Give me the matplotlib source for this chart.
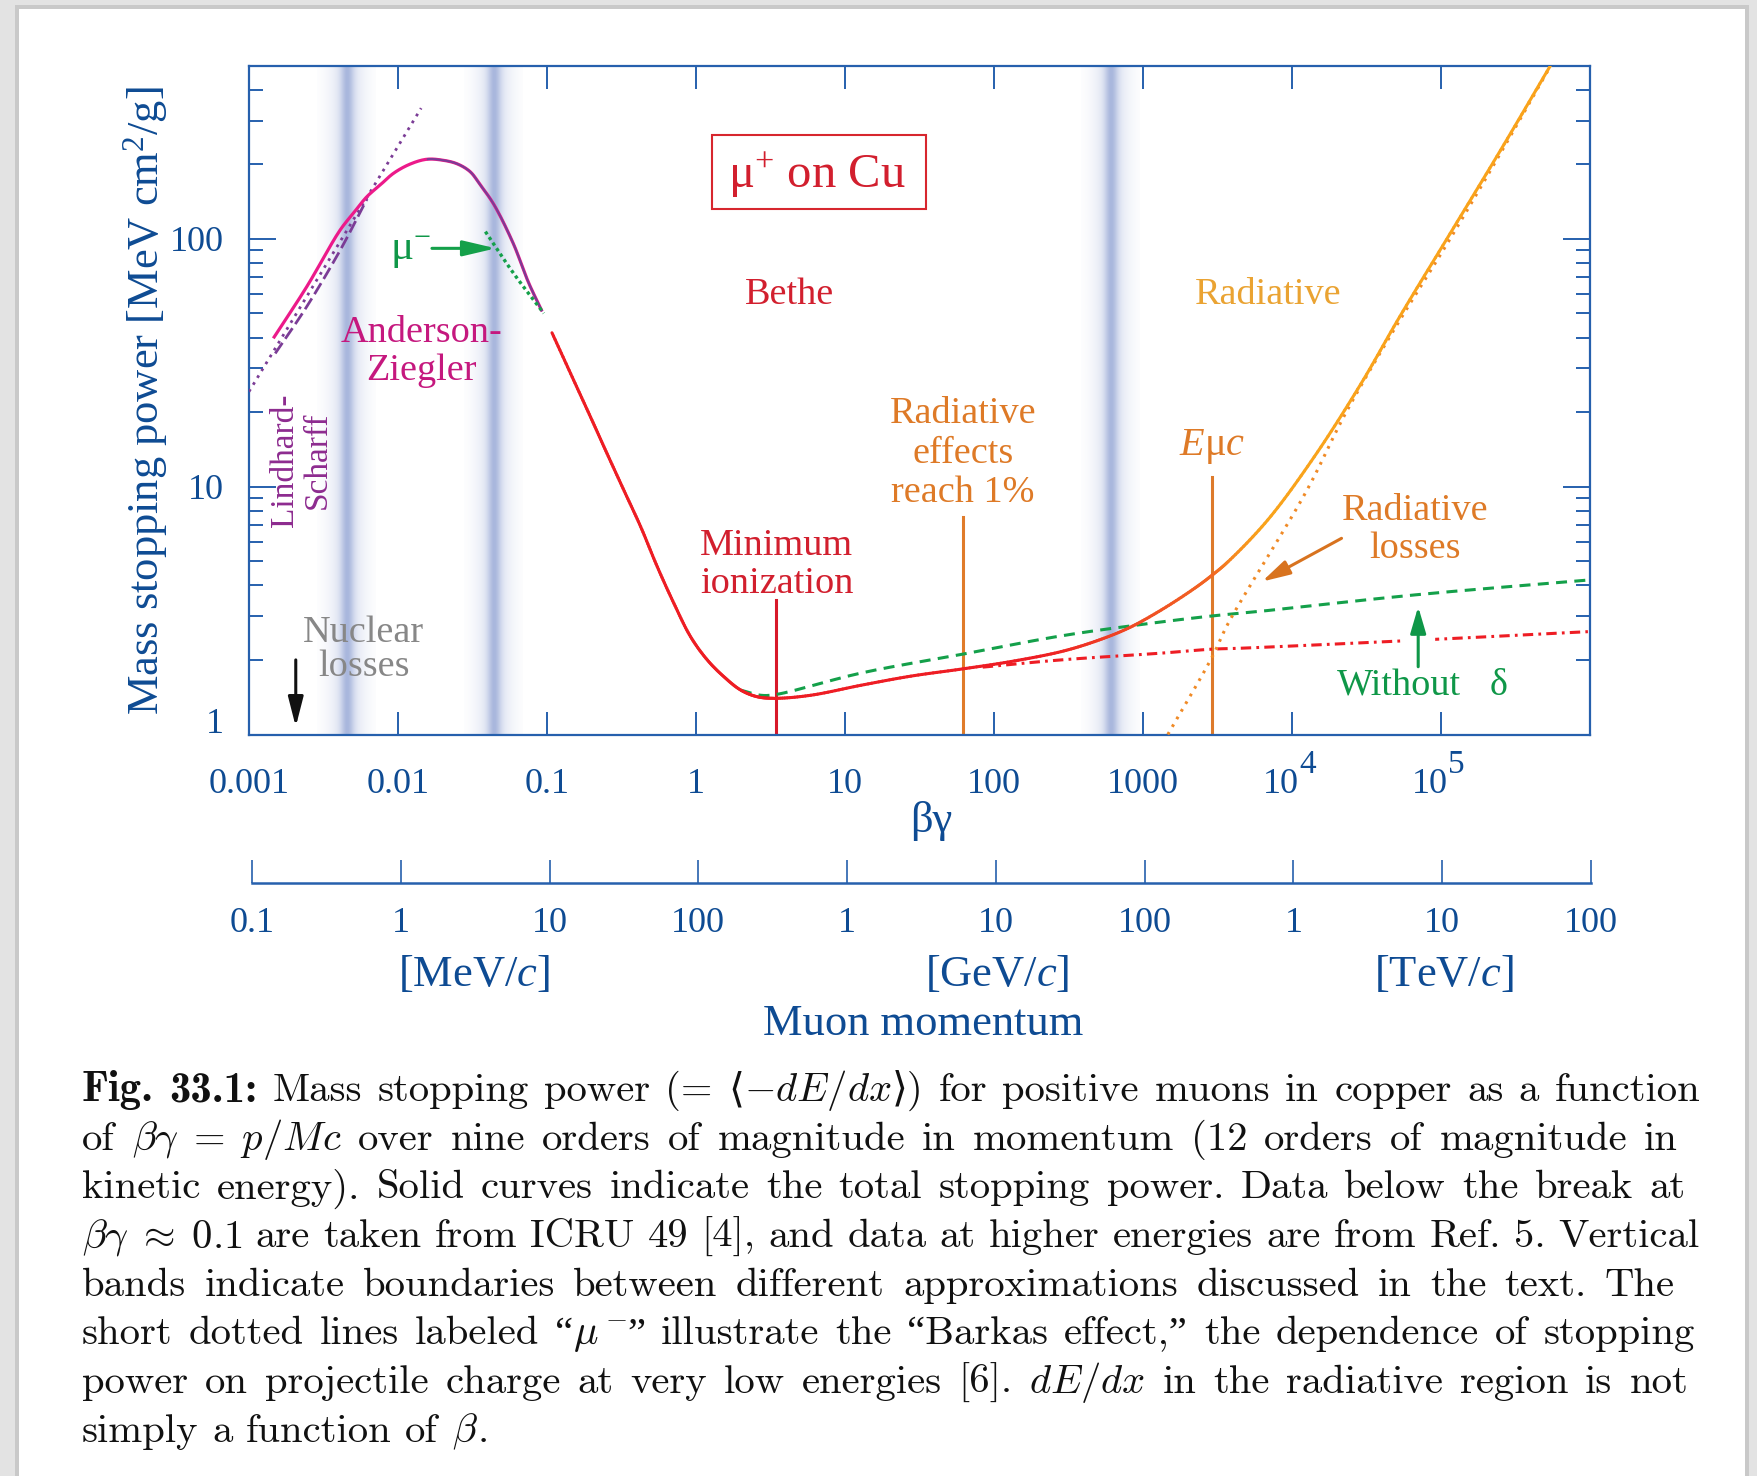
import re
import numpy as np
import matplotlib
matplotlib.use("Agg")
import matplotlib.pyplot as plt
from matplotlib.patches import Rectangle
from matplotlib.collections import LineCollection
from matplotlib.colors import LinearSegmentedColormap, to_rgb
from matplotlib.ticker import FixedLocator, NullLocator, LogLocator
import matplotlib.transforms as mtransforms

plt.rcParams['font.family'] = ['Liberation Serif', 'DejaVu Serif']
plt.rcParams['mathtext.fontset'] = 'custom'
plt.rcParams['mathtext.rm'] = 'Liberation Serif'
plt.rcParams['mathtext.it'] = 'Liberation Serif:italic'
plt.rcParams['mathtext.bf'] = 'Liberation Serif:bold'

# ---------------------------------------------------------------- data
# Anderson-Ziegler / ICRU 49 low-energy curve  (beta*gamma, MeV cm^2/g)
az_bg = [0.001456, 0.00244, 0.00409, 0.00502, 0.00618, 0.00759, 0.00933, 0.01208, 0.0156,
         0.01972, 0.0249, 0.0305, 0.0357, 0.0439, 0.0593, 0.0749, 0.0927]
az_val = [39.7, 64.1, 108.6, 127, 148, 165, 184, 200.5, 209.6,
          208, 201, 186.7, 165, 138, 96, 67, 51]
# Lindhard-Scharff (dashed) and its asymptote (dotted)
ls_bg = [0.0015, 0.00244, 0.00409, 0.0062]
ls_val = [34.5, 53.3, 90, 145]
lsd_bg = [0.001, 0.0143]
lsd_val = [24.2, 337]
# mu- (Barkas effect)
mum_bg = [0.0386, 0.0597, 0.0951]
mum_val = [107, 72.6, 50.1]
# total stopping power (Bethe + radiative)
tot_bg = [0.108, 0.151, 0.2, 0.253, 0.33, 0.425, 0.55, 0.711, 0.92, 1.19, 1.54, 2.0, 2.58, 3.43,
          5.89, 12.8, 27.7, 61.7, 130, 282, 472, 791, 1325, 2218, 2917, 3720, 6870,
          1.41e4, 2.9e4, 5.28e4, 1.15e5, 2.51e5, 5.42e5]
tot_val = [41.8, 26.9, 18.6, 13.6, 9.6, 6.9, 4.75, 3.38, 2.48, 2.0, 1.71, 1.51, 1.42, 1.40,
           1.44, 1.58, 1.72, 1.84, 1.97, 2.16, 2.37, 2.68, 3.18, 3.89, 4.40, 4.98, 7.34,
           13.2, 26.0, 48.5, 105, 228, 500]
# without density effect (dashed green)
nod_bg = [2.0, 2.72, 3.43, 12.8, 61.7, 282, 1023, 2917, 5200, 6.71e4, 9.68e5]
nod_val = [1.51, 1.44, 1.45, 1.77, 2.11, 2.50, 2.79, 3.01, 3.11, 3.66, 4.20]
# ionization only (dash-dot red)
ion_bg = [84, 282, 1325, 2917, 4570, 6.71e4, 9.68e5]
ion_val = [1.87, 2.0, 2.13, 2.21, 2.23, 2.40, 2.60]
# radiative losses (dotted orange)
rad_bg = [1468, 2917, 3720, 1.25e4, 2.28e4, 4.68e4, 1.15e5, 2.51e5, 5.42e5]
rad_val = [1.0, 2.06, 2.8, 9.6, 19.7, 41.6, 100, 222, 497]
# vertical markers: minimum ionization, radiative effects 1%, E_muc
vmark_bg = [3.43, 61.7, 2917]
vmark_top = [3.49, 7.57, 10.97]
# boundaries between approximations (vertical bands)
band_bg = [0.00454, 0.0438, 611]

# axes ticks / labels
bg_ticks = [1e-3, 1e-2, 1e-1, 1, 10, 100, 1000, 1e4, 1e5, 1e6]
bg_ticklabels = ['0.001', '0.01', '0.1', '1', '10', '100', '1000', '10^4', '10^5', '']
y_ticks = [1, 10, 100]
y_ticklabels = ['1', '10', '100']
mom_ticks = [0.1, 1, 10, 100, 1e3, 1e4, 1e5, 1e6, 1e7, 1e8]      # MeV/c
mom_ticklabels = ['0.1', '1', '10', '100', '1', '10', '100', '1', '10', '100']

caption = [
    r"Fig. 33.1: Mass stopping power (= ⟨$-dE/dx$⟩) for positive muons in copper as a function",
    r"of $\beta\gamma\;=\;p/Mc$ over nine orders of magnitude in momentum (12 orders of magnitude in",
    r"kinetic energy). Solid curves indicate the total stopping power. Data below the break at",
    r"$\beta\gamma\;\approx\;0.1$ are taken from ICRU 49 [4], and data at higher energies are from Ref. 5. Vertical",
    r"bands indicate boundaries between different approximations discussed in the text. The",
    r"short dotted lines labeled “$\mu^-$” illustrate the “Barkas effect,” the dependence of stopping",
    r"power on projectile charge at very low energies [6]. $dE/dx$ in the radiative region is not",
    r"simply a function of $\beta$.",
]
caption_right = [1700, 1678, 1686, 1700, 1675, 1695, 1688, None]

# ---------------------------------------------------------------- style
BLUE = '#2660ad'
BLUE_T = '#0e4b93'
RED = '#ee1d24'
RED_T = '#d21f2e'
ORANGE_T = '#de7a27'
YELLOW_T = '#eaa332'
GREEN = '#14a04a'
GREEN_T = '#0f9748'
MAGENTA = '#ec1a8a'
MAGENTA_T = '#c5187e'
PURPLE = '#7b3c96'
PURPLE_T = '#8d2b8f'
GRAY_T = '#878787'

W, H = 1758, 1476
fig = plt.figure(figsize=(W / 100, H / 100), dpi=100)
fig.patch.set_facecolor('#e3e3e3')


def fx(p):
    return p / W


def fy(p):
    return 1 - p / H


def smooth(xs, ys, n=14):
    """Centripetal Catmull-Rom through the points (in log-log display space)."""
    sx, sy = 149.0, 248.0
    P = np.column_stack([np.log10(xs) * sx, np.log10(ys) * sy])
    if len(P) < 3:
        return np.asarray(xs), np.asarray(ys)
    P = np.vstack([2 * P[0] - P[1], P, 2 * P[-1] - P[-2]])
    out = []
    for i in range(1, len(P) - 2):
        p0, p1, p2, p3 = P[i - 1], P[i], P[i + 1], P[i + 2]
        t0 = 0.0
        t1 = t0 + np.linalg.norm(p1 - p0) ** 0.5
        t2 = t1 + np.linalg.norm(p2 - p1) ** 0.5
        t3 = t2 + np.linalg.norm(p3 - p2) ** 0.5
        t = np.linspace(t1, t2, n, endpoint=False)[:, None]
        A1 = (t1 - t) / (t1 - t0) * p0 + (t - t0) / (t1 - t0) * p1
        A2 = (t2 - t) / (t2 - t1) * p1 + (t - t1) / (t2 - t1) * p2
        A3 = (t3 - t) / (t3 - t2) * p2 + (t - t2) / (t3 - t2) * p3
        B1 = (t2 - t) / (t2 - t0) * A1 + (t - t0) / (t2 - t0) * A2
        B2 = (t3 - t) / (t3 - t1) * A2 + (t - t1) / (t3 - t1) * A3
        C = (t2 - t) / (t2 - t1) * B1 + (t - t1) / (t2 - t1) * B2
        out.append(C)
    out.append(P[-2][None, :])
    out = np.vstack(out)
    return 10 ** (out[:, 0] / sx), 10 ** (out[:, 1] / sy)


fig.patches.append(Rectangle((fx(15), 0), fx(1749) - fx(15), fy(5), transform=fig.transFigure,
                             facecolor='#c9c9c9', edgecolor='none', zorder=-20))
fig.patches.append(Rectangle((fx(19), 0), fx(1745) - fx(19), fy(9), transform=fig.transFigure,
                             facecolor='white', edgecolor='none', zorder=-19))

ax = fig.add_axes([fx(249), fy(734.5), (1590 - 249) / W, (734.5 - 65.7) / H])
ax.set_xscale('log')
ax.set_yscale('log')
ax.set_xlim(1e-3, 1e6)
ax.set_ylim(1, 500)
ax.patch.set_alpha(0)

# vertical bands
core = np.array(to_rgb('#a9b7dd'))
white = np.array([1.0, 1.0, 1.0])
for c in band_bg:
    half = 0.2
    xs = np.linspace(c * 10 ** -half, c * 10 ** half, 260)
    dpx = (np.log10(xs) - np.log10(c)) * 149.0
    s = 0.38 * np.exp(-(dpx / 18.0) ** 2) + 0.62 * np.exp(-(dpx / 6.5) ** 2)
    img = (1 - s)[:, None] * white[None, :] + s[:, None] * core[None, :]
    ax.imshow(img[None, :, :], extent=(xs[0], xs[-1], 1, 500), aspect='auto',
              interpolation='bilinear', zorder=0)
ax.set_xlim(1e-3, 1e6)
ax.set_ylim(1, 500)

# vertical marker lines
ax.plot([vmark_bg[0]] * 2, [1, vmark_top[0]], color='#d7192a', lw=2.2, zorder=2)
ax.plot([vmark_bg[1]] * 2, [1, vmark_top[1]], color='#e07b2a', lw=2.2, zorder=2)
ax.plot([vmark_bg[2]] * 2, [1, vmark_top[2]], color='#dd7a2b', lw=2.2, zorder=2)

# low-energy curves
ax.plot(lsd_bg, lsd_val, color=PURPLE, lw=2.0, linestyle=(0, (1.0, 1.9)), zorder=3)
ax.plot(*smooth(ls_bg, ls_val), color=PURPLE, lw=2.0, linestyle=(0, (4.6, 1.8)), zorder=3)
azx, azy = smooth(az_bg, az_val)
ax.plot(azx, azy, color=MAGENTA, lw=2.3, zorder=4, solid_capstyle='butt')
m = azx >= az_bg[8]
ax.plot(azx[m], azy[m], color=PURPLE, lw=1.5, zorder=4.1, solid_capstyle='butt')
ax.plot(*smooth(mum_bg, mum_val), color=GREEN, lw=2.4, linestyle=(0, (1.0, 1.0)), zorder=4.2)

# other high-energy curves
ax.plot(*smooth(nod_bg, nod_val), color=GREEN, lw=2.2, linestyle=(0, (3.6, 2.4)), zorder=3)
ax.plot(*smooth(ion_bg, ion_val), color=RED, lw=2.2, linestyle=(0, (3.4, 1.7, 0.9, 1.7)), zorder=3)
ax.plot(*smooth(rad_bg, rad_val), color='#f08a26', lw=2.2, linestyle=(0, (0.9, 2.0)), zorder=3)

# total curve with red -> orange colour change
tx, ty = smooth(tot_bg, tot_val)
pts = np.column_stack([tx, ty]).reshape(-1, 1, 2)
segs = np.concatenate([pts[:-1], pts[1:]], axis=1)
mid = 0.5 * (np.log10(tx[:-1]) + np.log10(tx[1:]))
cstops = [(2.3, '#ee1d24'), (3.0, '#f04e24'), (3.46, '#f26522'), (3.62, '#f68b1f'), (3.8, '#f9a31b')]
lo, hi = cstops[0][0], cstops[-1][0]
cmap = LinearSegmentedColormap.from_list('rad', [((v - lo) / (hi - lo), c) for v, c in cstops])
cols = cmap(np.clip((mid - lo) / (hi - lo), 0, 1))
lc = LineCollection(segs, colors=cols, linewidths=2.2, capstyle='round', joinstyle='round', zorder=4)
ax.add_collection(lc)

# spines & ticks
for s in ax.spines.values():
    s.set_color(BLUE)
    s.set_linewidth(1.6)
ax.xaxis.set_major_locator(FixedLocator(bg_ticks))
ax.xaxis.set_minor_locator(NullLocator())
ax.yaxis.set_major_locator(FixedLocator(y_ticks))
ax.yaxis.set_minor_locator(LogLocator(base=10, subs=np.arange(2, 10)))
ax.tick_params(axis='x', which='major', direction='in', length=16.5, width=1.4, color=BLUE,
               top=True, bottom=True, labelbottom=False)
ax.tick_params(axis='y', which='major', direction='in', length=19.5, width=1.4, color=BLUE,
               left=True, right=True, labelleft=False)
ax.tick_params(axis='y', which='minor', direction='in', length=10, width=1.4, color=BLUE,
               left=True, right=True, labelleft=False)

xoff = ax.get_xaxis_transform() + mtransforms.ScaledTranslation(0, -0.585, fig.dpi_scale_trans)
for xv, lab in zip(bg_ticks, bg_ticklabels):
    if not lab:
        continue
    if '^' in lab:
        base, ex = lab.split('^')
        tb = ax.get_xaxis_transform() + mtransforms.ScaledTranslation(0.065, -0.585, fig.dpi_scale_trans)
        ax.text(xv, 0, base, transform=tb, ha='right', va='baseline', fontsize=26,
                color=BLUE_T, clip_on=False)
        te = ax.get_xaxis_transform() + mtransforms.ScaledTranslation(0.075, -0.385, fig.dpi_scale_trans)
        ax.text(xv, 0, ex, transform=te, ha='left', va='baseline', fontsize=24,
                color=BLUE_T, clip_on=False)
    else:
        ax.text(xv, 0, lab, transform=xoff, ha='center', va='baseline', fontsize=26,
                color=BLUE_T, clip_on=False)
for yv, lab, dy in zip(y_ticks, y_ticklabels, [0.015, -0.125, -0.125]):
    tr = ax.get_yaxis_transform() + mtransforms.ScaledTranslation(-0.25, dy, fig.dpi_scale_trans)
    ax.text(0, yv, lab, transform=tr, ha='right', va='baseline', fontsize=26,
            color=BLUE_T, clip_on=False)

# momentum axis
ax2 = fig.add_axes([fx(252), fy(883), (1591 - 252) / W, 0.03])
ax2.set_xscale('log')
ax2.set_xlim(0.1, 1e8)
ax2.patch.set_visible(False)
for s in ['top', 'left', 'right']:
    ax2.spines[s].set_visible(False)
ax2.spines['bottom'].set_color(BLUE)
ax2.spines['bottom'].set_linewidth(1.8)
ax2.set_yticks([])
ax2.xaxis.set_major_locator(FixedLocator(mom_ticks))
ax2.xaxis.set_minor_locator(NullLocator())
ax2.tick_params(axis='x', which='major', direction='in', length=16.5, width=1.2, color=BLUE,
                labelbottom=False)
moff = ax2.get_xaxis_transform() + mtransforms.ScaledTranslation(0, -0.487, fig.dpi_scale_trans)
for xv, lab in zip(mom_ticks, mom_ticklabels):
    ax2.text(xv, 0, lab, transform=moff, ha='center', va='baseline', fontsize=26,
             color=BLUE_T, clip_on=False)

# axis titles
fig.text(fx(931), fy(832), 'βγ', ha='center', va='baseline', fontsize=32, color=BLUE_T)
fig.text(fx(158), fy(401), r'Mass stopping power [MeV cm$^2$/g]', rotation=90,
         rotation_mode='anchor', ha='center', va='baseline', fontsize=32, color=BLUE_T)
fig.text(fx(474), fy(986), r'[MeV/$c$]', ha='center', va='baseline', fontsize=32, color=BLUE_T)
fig.text(fx(997), fy(986), r'[GeV/$c$]', ha='center', va='baseline', fontsize=32, color=BLUE_T)
fig.text(fx(1444), fy(986), r'[TeV/$c$]', ha='center', va='baseline', fontsize=32, color=BLUE_T)
fig.text(fx(923), fy(1035), 'Muon momentum', ha='center', va='baseline', fontsize=32, color=BLUE_T)

# annotations
ANN = 27.5


def lines(x, y, txts, dy_pt, color, size=ANN, **kw):
    for k, s in enumerate(txts):
        ax.annotate(s, xy=(x, y), xytext=(0, -k * dy_pt), textcoords='offset points',
                    ha='center', va='baseline', fontsize=size, color=color, zorder=7, **kw)


# mu+ on Cu box
ax.add_patch(Rectangle((1.287, 132.1), 35.1 - 1.287, 262.7 - 132.1, facecolor='white',
                       edgecolor='#d7262e', lw=1.5, zorder=6))
ax.text(6.46, 160, r'$\mathrm{\mu}^{+}$ on Cu', ha='center', va='baseline', fontsize=35,
        color=RED_T, zorder=7)

lines(4.26, 54.6, ['Bethe'], 27.5, RED_T)
lines(6.88e3, 54.6, ['Radiative'], 27.5, YELLOW_T)
lines(0.01428, 38.4, ['Anderson-', 'Ziegler'], 27.7, MAGENTA_T)
lines(0.00589, 2.37, ['Nuclear', 'losses'], 25.0, GRAY_T)
lines(3.48, 5.30, ['Minimum', 'ionization'], 27.6, RED_T)
lines(61.9, 18.0, ['Radiative', 'effects', 'reach 1%'], 28.2, ORANGE_T)
lines(6.71e4, 7.34, ['Radiative', 'losses'], 27.6, ORANGE_T)
ax.text(2917, 13.4, r'$E\mathrm{\mu}c$', ha='center', va='baseline', fontsize=29, color=ORANGE_T,
        zorder=7)
ax.text(1.99e4, 1.443, 'Without', ha='left', va='baseline', fontsize=ANN, color=GREEN_T, zorder=7)
ax.text(2.12e5, 1.443, 'δ', ha='left', va='baseline', fontsize=ANN, color=GREEN_T, zorder=7)
for xv, s in [(0.001977, 'Lindhard-'), (0.003292, 'Scharff')]:
    ax.text(xv, 12.8, s, rotation=90, rotation_mode='anchor', ha='center', va='baseline',
            fontsize=24, color=PURPLE_T, zorder=7)
ax.text(0.0166, 82.2, r'$\mathrm{\mu}^{-}$', ha='right', va='baseline', fontsize=31,
        color=GREEN_T, zorder=7)


def arrow(start, end, color, hl, hw, lw=2.2):
    ax.annotate('', xy=end, xytext=start, xycoords='data', textcoords='data', zorder=8,
                arrowprops=dict(arrowstyle=f'-|>,head_length={hl},head_width={hw}',
                                color=color, lw=lw, shrinkA=0, shrinkB=0, mutation_scale=1))


arrow((0.00206, 2.0), (0.00206, 1.075), '#111111', 18, 4.6)
arrow((0.0169, 91.6), (0.0454, 91.6), GREEN, 20, 4.7)
arrow((2.15e4, 6.19), (6.28e3, 4.14), '#d8731f', 17, 4.5)
ax.plot([7.03e4, 7.03e4], [1.9, 2.7], color='white', lw=24, solid_capstyle='butt', zorder=4.5)
arrow((7.03e4, 1.877), (7.03e4, 3.28), '#0f9748', 16, 4.7)

# caption (justified, word by word)
renderer = fig.canvas.get_renderer()
CAP = 29.3
CAPB = 30.8
cap_left = 82
base0, dyc = 1101, 48.7
space_px = 0.333 * CAP * 100 / 72
for i, line in enumerate(caption):
    toks = line.split(' ')
    yfig = fy(base0 + i * dyc)
    words = []
    for j, tok in enumerate(toks):
        bold = (i == 0 and j < 2)
        pieces = [p for p in re.split(r'(\$[^$]*\$)', tok) if p]
        arts = []
        for p in pieces:
            if bold:
                t = fig.text(0, yfig, p, fontsize=CAPB, family=['cmb10'], ha='left',
                             va='baseline', color='#111111')
            else:
                t = fig.text(0, yfig, p, fontsize=CAP,
                             family=['cmr10', 'Liberation Serif', 'DejaVu Serif', 'DejaVu Sans'],
                             math_fontfamily='cm', ha='left', va='baseline', color='#111111')
            arts.append((t, t.get_window_extent(renderer).width))
        words.append(arts)
    widths = [sum(w for _, w in arts) for arts in words]
    right = caption_right[i]
    if right is not None and len(words) > 1:
        gap = (right - cap_left - sum(widths)) / (len(words) - 1)
    else:
        gap = space_px
    x = cap_left
    for arts, wsum in zip(words, widths):
        xp = x
        for t, w in arts:
            t.set_x(fx(xp))
            xp += w
        x += wsum + gap

fig.savefig('out.png', dpi=100, facecolor=fig.get_facecolor())
